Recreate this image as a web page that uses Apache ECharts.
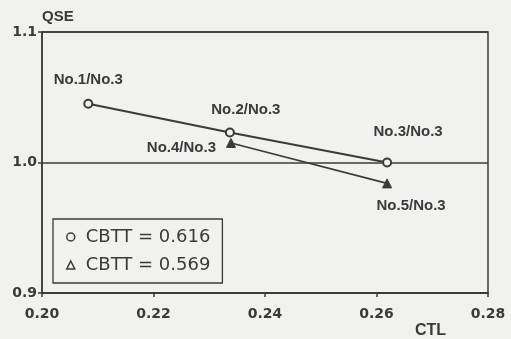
<!DOCTYPE html>
<html>
<head>
<meta charset="utf-8">
<script src="https://cdn.jsdelivr.net/npm/echarts@6/dist/echarts.min.js"></script>
<style>
html,body{margin:0;padding:0;background:#f1f1ef;}
#c{width:511px;height:339px;}
</style>
</head>
<body>
<div id="c"></div>
<script>
// Data
const circleName = 'CBTT = 0.616';
const circleCTL = [0.2083, 0.2337, 0.2619];
const circleQSE = [1.045, 1.023, 1.000];
const circleLabels = ['No.1/No.3', 'No.2/No.3', 'No.3/No.3'];

const triName = 'CBTT = 0.569';
const triCTL = [0.2339, 0.2619];
const triQSE = [1.015, 0.984];
const triLabels = ['No.4/No.3', 'No.5/No.3'];

const xTicks = { min: 0.20, max: 0.28, interval: 0.02 };
const yTicks = { min: 0.9, max: 1.1, interval: 0.1 };

// label layout (styling)
const circleLabelPos = [
  { position: 'top', offset: [0, -6] },
  { position: 'top', offset: [16, -5] },
  { position: 'top', offset: [21, -13] }
];
const triLabelPos = [
  { position: 'left', offset: [-5, 5] },
  { position: 'bottom', offset: [24, 5] }
];

const ink = '#3a3a3a';
const labFont = 'Liberation Sans';
const tickFont = 'DejaVu Sans';

function build(xs, ys, labels, pos) {
  return xs.map((x, i) => ({
    value: [x, ys[i]],
    label: Object.assign({ show: true, formatter: labels[i] }, pos[i])
  }));
}

const chart = echarts.init(document.getElementById('c'));
chart.setOption({
  animation: false,
  backgroundColor: '#f1f1ef',
  textStyle: { fontFamily: labFont },
  grid: {
    left: 42, right: 23, top: 32, bottom: 46,
    show: true, borderColor: ink, borderWidth: 1.5, backgroundColor: 'transparent'
  },
  legend: {
    left: 53, top: 219,
    orient: 'vertical',
    padding: [8, 12, 8, 13],
    itemGap: 8,
    borderColor: ink,
    borderWidth: 1.3,
    itemWidth: 8, itemHeight: 8,
    textStyle: { color: ink, fontSize: 18, fontFamily: tickFont, fontWeight: 'normal', padding: [0, 0, 0, 6], lineHeight: 20 },
    data: [
      { name: circleName, icon: 'circle', itemStyle: { color: 'transparent', borderColor: ink, borderWidth: 1.5 } },
      { name: triName, icon: 'triangle', itemStyle: { color: 'transparent', borderColor: ink, borderWidth: 1.5 } }
    ]
  },
  xAxis: {
    type: 'value',
    min: xTicks.min, max: xTicks.max, interval: xTicks.interval,
    name: 'CTL', nameLocation: 'end', nameGap: -73,
    nameTextStyle: { color: ink, fontSize: 16, fontWeight: 'bold', fontFamily: labFont, align: 'left', verticalAlign: 'top', padding: [30, 0, 0, 0] },
    axisLine: { lineStyle: { color: ink, width: 1.5 } },
    axisTick: { inside: false, length: 4, lineStyle: { color: ink, width: 1.5 } },
    axisLabel: { color: ink, fontSize: 14, fontWeight: 'bold', fontFamily: tickFont, margin: 14,
      formatter: v => v.toFixed(2) },
    splitLine: { show: false }
  },
  yAxis: {
    type: 'value',
    min: yTicks.min, max: yTicks.max, interval: yTicks.interval,
    name: 'QSE', nameLocation: 'end', nameGap: 8,
    nameTextStyle: { color: ink, fontSize: 15, fontWeight: 'bold', fontFamily: labFont, align: 'left' },
    axisLine: { lineStyle: { color: ink, width: 1.5 } },
    axisTick: { inside: false, length: 4, lineStyle: { color: ink, width: 1.5 } },
    axisLabel: { color: ink, fontSize: 14, fontWeight: 'bold', fontFamily: tickFont, margin: 5,
      formatter: v => v.toFixed(1) },
    splitLine: { show: true, lineStyle: { color: ink, width: 1.5 } }
  },
  series: [
    {
      name: circleName,
      type: 'line',
      symbol: 'circle', symbolSize: 8,
      itemStyle: { color: '#f1f1ef', borderColor: ink, borderWidth: 2 },
      lineStyle: { color: ink, width: 2 },
      label: { color: ink, fontSize: 15, fontWeight: 'bold', fontFamily: labFont },
      data: build(circleCTL, circleQSE, circleLabels, circleLabelPos),
      z: 3
    },
    {
      name: triName,
      type: 'line',
      symbol: 'triangle', symbolSize: 9,
      itemStyle: { color: ink, borderColor: ink, borderWidth: 1 },
      lineStyle: { color: ink, width: 1.6 },
      label: { color: ink, fontSize: 15, fontWeight: 'bold', fontFamily: labFont },
      data: build(triCTL, triQSE, triLabels, triLabelPos),
      z: 2
    }
  ]
});
</script>
</body>
</html>
